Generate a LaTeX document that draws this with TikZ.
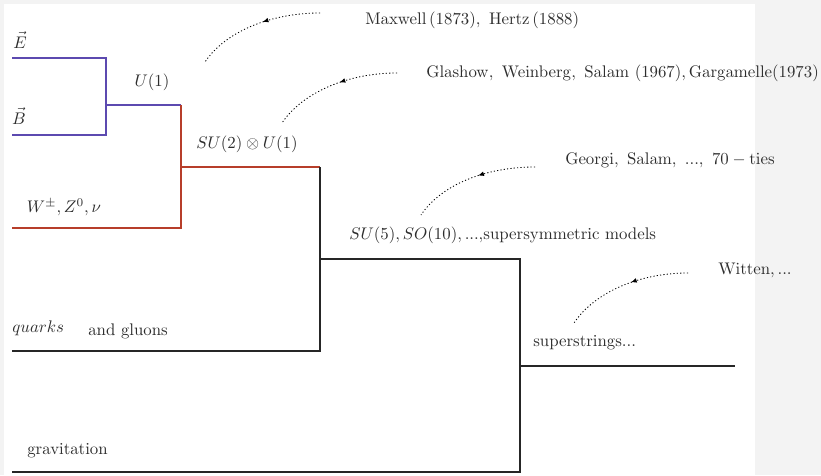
\documentclass[tikz,border=0pt]{standalone}
\usetikzlibrary{decorations.markings,arrows.meta}
\definecolor{emcol}{RGB}{92,74,176}
\definecolor{ewcol}{RGB}{183,62,42}
\definecolor{gutcol}{RGB}{38,38,38}
\definecolor{pagegrey}{RGB}{243,243,243}
\definecolor{inkcol}{RGB}{45,45,45}
\begin{document}
\begin{tikzpicture}[x=0.595pt,y=-0.595pt,
  branch/.style={line width=1.15pt},
  em/.style={branch,draw=emcol},
  ew/.style={branch,draw=ewcol},
  gut/.style={branch,draw=gutcol},
  lab/.style={text=inkcol,inner sep=0pt},
  note/.style={text=inkcol,inner sep=0pt,anchor=west},
  history/.style={draw=black,line width=0.5pt,dash pattern=on 0.7pt off 1.3pt,
    postaction={decorate},
    decoration={markings,mark=at position 0.45 with {\arrow{Latex[length=3.5pt,width=2.8pt]}}}}
]
% page
\fill[pagegrey] (0,0) rectangle (821,475);
\fill[white] (4,4) rectangle (755,475);
\useasboundingbox (0,0) rectangle (821,475);

% end points of the unification tree
\coordinate (E0) at (12,58);   \coordinate (E1) at (106,58);
\coordinate (B0) at (12,135);  \coordinate (B1) at (106,135);
\coordinate (U0) at (106,105); \coordinate (U1) at (181,105);
\coordinate (W0) at (12,228);  \coordinate (W1) at (181,228);
\coordinate (S0) at (181,167); \coordinate (S1) at (320,167);
\coordinate (Q0) at (12,351);  \coordinate (Q1) at (320,351);
\coordinate (G0) at (320,259); \coordinate (G1) at (520,259);
\coordinate (R0) at (12,472);  \coordinate (R1) at (520,472);
\coordinate (X0) at (520,366); \coordinate (X1) at (735,366);

% electromagnetism
\draw[em] (E0) -- (E1) -- (B1) -- (B0);
\draw[em] (U0) -- (U1);
% electroweak
\draw[ew] (U1) -- (W1) -- (W0);
\draw[ew] (S0) -- (S1);
% grand unification and beyond
\draw[gut] (S1) -- (Q1) -- (Q0);
\draw[gut] (G0) -- (G1) -- (R1) -- (R0);
\draw[gut] (X0) -- (X1);

% branch labels
\node[lab] (lE) at (20,40) {$\vec{E}$};
\node[lab] (lB) at (19,116) {$\vec{B}$};
\node[lab] (lU) at (152,82) {$U(1)$};
\node[lab] (lW) at (64,207) {$W^{\pm},Z^{0},\nu$};
\node[lab] (lS) at (247,144) {$SU(2)\otimes U(1)$};
\node[lab,anchor=west] (lQ) at (12,328) {$quarks$};
\node[lab,anchor=west] (lg) at (88,331) {and gluons};
\node[lab,anchor=west] (lG) at (349,235) {$SU(5),SO(10),...,$supersymmetric models};
\node[lab,anchor=west] (lX) at (533,343) {superstrings...};
\node[lab,anchor=west] (lR) at (27,451) {gravitation};

% historical notes
\node[note] (nM) at (365,20) {$\mathrm{Maxwell\,(1873),\ Hertz\,(1888)}$};
\node[note] (nG) at (426,73) {$\mathrm{Glashow,\ Weinberg,\ Salam\ (1967),Gargamelle(1973)}$};
\node[note] (nS) at (565,160) {$\mathrm{Georgi,\ Salam,\ ...,\ 70-ties}$};
\node[note] (nW) at (718,270) {$\mathrm{Witten,...}$};

% dotted pointers
\coordinate (aM0) at (320,13);  \coordinate (aM1) at (205,62);
\coordinate (aG0) at (397,73);  \coordinate (aG1) at (282,123);
\coordinate (aS0) at (535,167); \coordinate (aS1) at (421,215);
\coordinate (aW0) at (688,273); \coordinate (aW1) at (574,323);
\foreach \a in {aM,aG,aS,aW}{
  \draw[history] (\a0) .. controls +(-50,0) and +(20,-30) .. (\a1);
}
\end{tikzpicture}
\end{document}
